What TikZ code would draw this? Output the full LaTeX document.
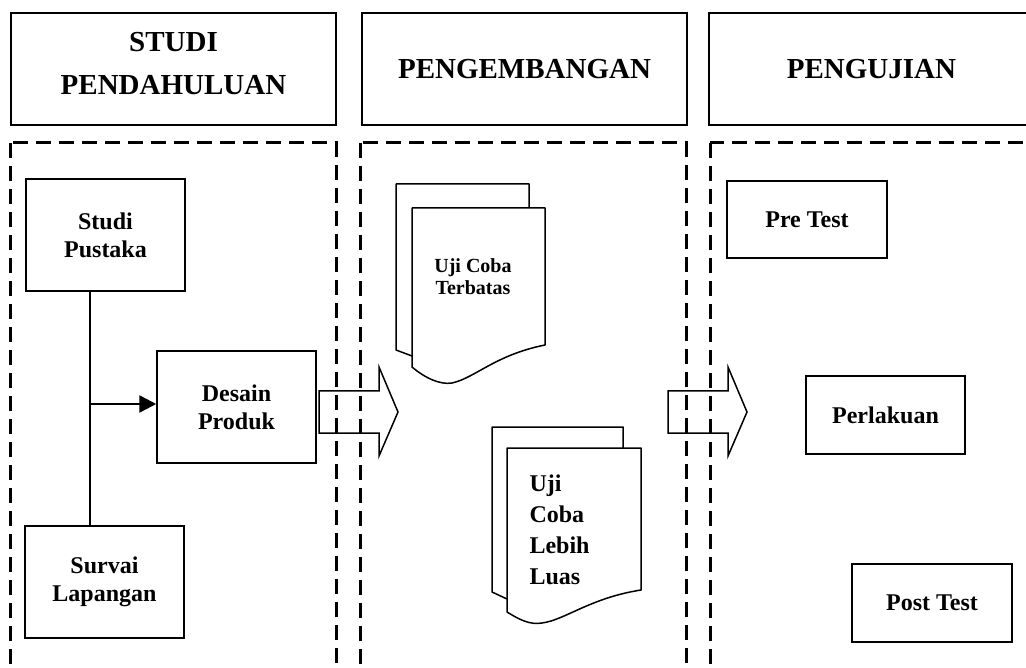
\documentclass[tikz,border=0pt]{standalone}
\usepackage{fontspec}
\setmainfont{Liberation Serif}
\usetikzlibrary{arrows.meta}

\begin{document}
\begin{tikzpicture}[x=1pt,y=-1pt,
    head/.style={draw,line width=1.5pt,minimum width=325pt,minimum height=112pt,align=center,
      font=\bfseries\fontsize{29}{43}\selectfont},
    box/.style={draw,line width=1.5pt,minimum width=159pt,minimum height=112pt,align=center,
      font=\bfseries\fontsize{24}{28}\selectfont},
    lane/.style={line width=3pt,dash pattern=on 15pt off 8pt},
    sheet/.style={draw,line width=1.5pt,fill=white,line join=round}]
\useasboundingbox (0,0) rectangle (1026,668);
\clip (0,0) rectangle (1026,668);

    \node[head,text depth=12pt] (H1) at (173.5,69) {STUDI\\PENDAHULUAN};
    \node[head] (H2) at (524.5,69) {PENGEMBANGAN};
    \node[head] (H3) at (871.5,69) {PENGUJIAN};

    \draw[lane] (10,143) rectangle (336,700);
    \draw[lane] (360,143) rectangle (686,700);
    \draw[lane] (710,143) rectangle (1034,700);

    \node[box] (SP) at (105.5,235) {Studi\\Pustaka};
    \node[box] (DP) at (236.5,407) {Desain\\Produk};
    \node[box] (SL) at (104.5,582) {Survai\\Lapangan};
    \coordinate (spine) at (90,404);
    \draw[line width=1.5pt] (SP.south -| spine) -- (SL.north -| spine);
    \draw[line width=2.5pt,-{Triangle[length=17pt,width=17pt]}] (spine) -- (spine -| DP.west);

    \foreach \x in {319,668}
      \draw[line width=1.5pt] (\x,391) -- ++(60,0) -- ++(0,-24) -- ++(19,45)
        -- ++(-19,44) -- ++(0,-23) -- ++(-60,0) -- cycle;

    \path[sheet] (412,356) -- (396,350) -- (396,184) -- (529,184) -- (529,208);
    \path[sheet] (412,208) -- (545,208) -- (545,345) .. controls (495,355) and (475,378) .. (452,383)
      .. controls (440,385) and (425,378) .. (412,367) -- cycle;
    \node[font=\bfseries\fontsize{20}{22}\selectfont,align=center] (U1) at (473,277) {Uji Coba\\Terbatas};

    \path[sheet] (507,599) -- (492,592) -- (492,427) -- (623,427) -- (623,448);
    \path[sheet] (507,448) -- (641,448) -- (641,590) .. controls (590,598) and (565,620) .. (542,623)
      .. controls (530,625) and (520,620) .. (507,612) -- cycle;
    \node[font=\bfseries\fontsize{24}{31}\selectfont,align=left,anchor=west] (U2) at (526,530) {Uji\\Coba\\Lebih\\Luas};

    \node[box,minimum width=160pt,minimum height=77pt] (PT) at (807,219.5) {Pre Test};
    \node[box,minimum height=78pt] (PL) at (885.5,415) {Perlakuan};
    \node[box,minimum width=160pt,minimum height=78pt] (PO) at (932,603) {Post Test};
\end{tikzpicture}
\end{document}
